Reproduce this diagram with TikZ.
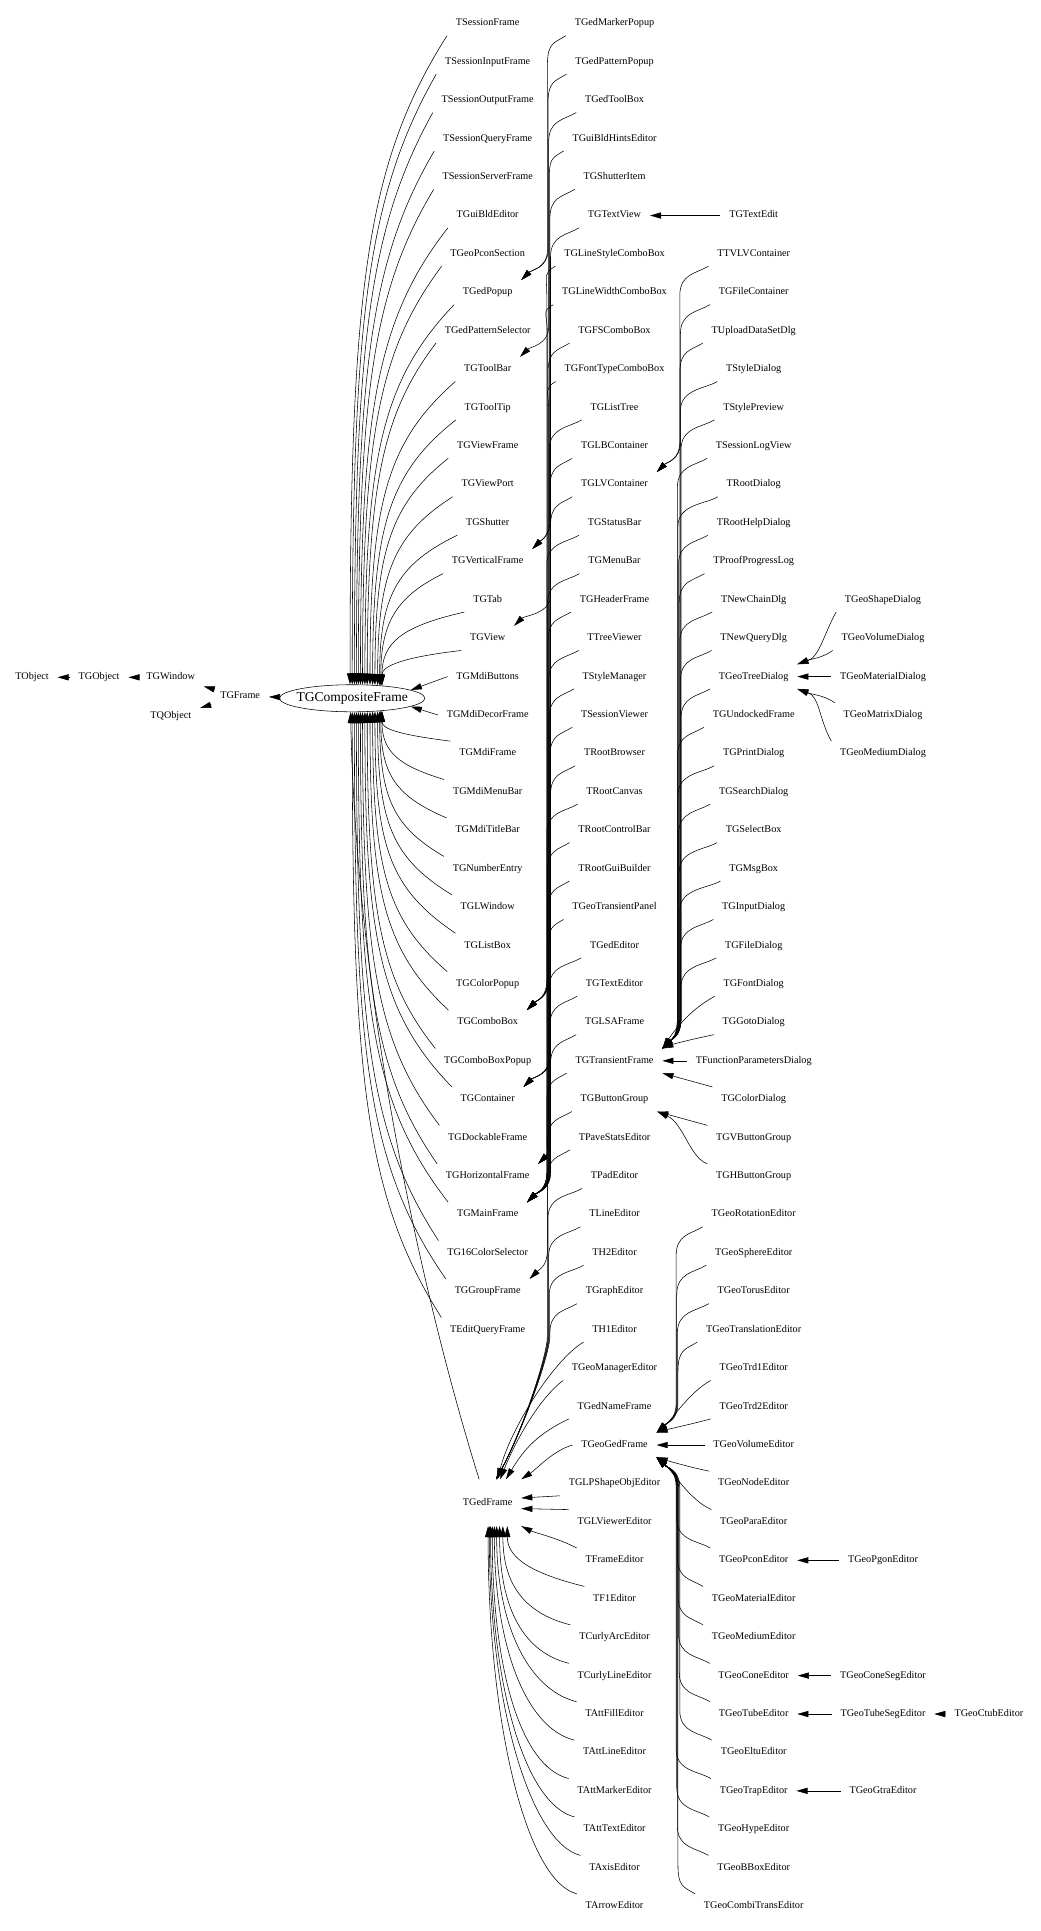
\documentclass[tikz,border=0pt]{standalone}
\usepackage{fontspec}
\setmainfont{Liberation Serif}
\usetikzlibrary{arrows.meta,shapes.geometric}

\begin{document}
\begin{tikzpicture}[x=1pt,y=1pt,
	cls/.style={inner xsep=7pt,inner ysep=6pt,text height=5.8pt,text depth=1.8pt,font=\fontsize{8.3}{9}\selectfont},
	inh/.style={-{Triangle[length=9pt,width=5pt]},line width=0.45pt}]
	\useasboundingbox (0,0) rectangle (845,-1568);
	\node[cls] (TObject) at (26,-550) {TObject};
	\node[cls] (TGObject) at (80.5,-550) {TGObject};
	\node[cls] (TGWindow) at (138.6,-550) {TGWindow};
	\node[cls] (TQObject) at (138.7,-581.7) {TQObject};
	\node[cls] (TGFrame) at (195,-565.5) {TGFrame};
	\node[draw,ellipse,inner xsep=-6pt,inner ysep=0pt,minimum width=118pt,minimum height=22pt,line width=0.45pt,font=\fontsize{11}{13}\selectfont] (TGCompositeFrame) at (286,-567) {TGCompositeFrame};
	\foreach \n [count=\i from 0] in {TSessionFrame,TSessionInputFrame,TSessionOutputFrame,TSessionQueryFrame,TSessionServerFrame,%
		TGuiBldEditor,TGeoPconSection,TGedPopup,TGedPatternSelector,TGToolBar,TGToolTip,TGViewFrame,TGViewPort,TGShutter,%
		TGVerticalFrame,TGTab,TGView,TGMdiButtons,TGMdiDecorFrame,TGMdiFrame,TGMdiMenuBar,TGMdiTitleBar,TGNumberEntry,%
		TGLWindow,TGListBox,TGColorPopup,TGComboBox,TGComboBoxPopup,TGContainer,TGDockableFrame,TGHorizontalFrame,%
		TGMainFrame,TG16ColorSelector,TGGroupFrame,TEditQueryFrame}
		\node[cls] (\n) at (396,{-19-31.2*\i}) {\n};
	\node[cls,inner ysep=15pt] (TGedFrame) at (396,-1220.2) {TGedFrame};
	\foreach \n [count=\i from 0] in {TGedMarkerPopup,TGedPatternPopup,TGedToolBox,TGuiBldHintsEditor,TGShutterItem,TGTextView,%
		TGLineStyleComboBox,TGLineWidthComboBox,TGFSComboBox,TGFontTypeComboBox,TGListTree,TGLBContainer,TGLVContainer,%
		TGStatusBar,TGMenuBar,TGHeaderFrame,TTreeViewer,TStyleManager,TSessionViewer,TRootBrowser,TRootCanvas,%
		TRootControlBar,TRootGuiBuilder,TGeoTransientPanel,TGedEditor,TGTextEditor,TGLSAFrame,TGTransientFrame,%
		TGButtonGroup,TPaveStatsEditor,TPadEditor,TLineEditor,TH2Editor,TGraphEditor,TH1Editor,TGeoManagerEditor,%
		TGedNameFrame,TGeoGedFrame,TGLPShapeObjEditor,TGLViewerEditor,TFrameEditor,TF1Editor,TCurlyArcEditor,%
		TCurlyLineEditor,TAttFillEditor,TAttLineEditor,TAttMarkerEditor,TAttTextEditor,TAxisEditor,TArrowEditor}
		\node[cls] (\n) at (499,{-19-31.2*\i}) {\n};
	\foreach \n [count=\i from 5] in {TGTextEdit,TTVLVContainer,TGFileContainer,TUploadDataSetDlg,TStyleDialog,TStylePreview,%
		TSessionLogView,TRootDialog,TRootHelpDialog,TProofProgressLog,TNewChainDlg,TNewQueryDlg,TGeoTreeDialog,%
		TGUndockedFrame,TGPrintDialog,TGSearchDialog,TGSelectBox,TGMsgBox,TGInputDialog,TGFileDialog,TGFontDialog,%
		TGGotoDialog,TFunctionParametersDialog,TGColorDialog,TGVButtonGroup,TGHButtonGroup,TGeoRotationEditor,%
		TGeoSphereEditor,TGeoTorusEditor,TGeoTranslationEditor,TGeoTrd1Editor,TGeoTrd2Editor,TGeoVolumeEditor,%
		TGeoNodeEditor,TGeoParaEditor,TGeoPconEditor,TGeoMaterialEditor,TGeoMediumEditor,TGeoConeEditor,%
		TGeoTubeEditor,TGeoEltuEditor,TGeoTrapEditor,TGeoHypeEditor,TGeoBBoxEditor,TGeoCombiTransEditor}
		\node[cls] (\n) at (612,{-19-31.2*\i}) {\n};
	\foreach \n/\i in {TGeoShapeDialog/15,TGeoVolumeDialog/16,TGeoMaterialDialog/17,TGeoMatrixDialog/18,TGeoMediumDialog/19,%
		TGeoPgonEditor/40,TGeoConeSegEditor/43,TGeoTubeSegEditor/44,TGeoGtraEditor/46}
		\node[cls] (\n) at (717,{-19-31.2*\i}) {\n};
	\node[cls] (TGeoCtubEditor) at (803,-1391.8) {TGeoCtubEditor};

	\draw[inh] (TGObject) -- (TObject);
	\draw[inh] (TGWindow) -- (TGObject);
	\draw[inh] (TGFrame) -- (TGWindow);
	\draw[inh] (TGFrame) -- (TQObject);
	\draw[inh] (TGCompositeFrame) -- (TGFrame);
	\foreach \n [count=\i from 0] in {TSessionFrame,TSessionInputFrame,TSessionOutputFrame,TSessionQueryFrame,TSessionServerFrame,%
		TGuiBldEditor,TGeoPconSection,TGedPopup,TGedPatternSelector,TGToolBar,TGToolTip,TGViewFrame,TGViewPort,TGShutter,%
		TGVerticalFrame,TGTab,TGView,TGMdiButtons,TGMdiDecorFrame,TGMdiFrame,TGMdiMenuBar,TGMdiTitleBar,TGNumberEntry,%
		TGLWindow,TGListBox,TGColorPopup,TGComboBox,TGComboBoxPopup,TGContainer,TGDockableFrame,TGHorizontalFrame,%
		TGMainFrame,TG16ColorSelector,TGGroupFrame,TEditQueryFrame}{
		\ifnum\i<17
			\pgfmathsetmacro\d{526-31.2*\i}
			\pgfmathsetmacro\cy{-29-31.2*\i-0.2*\d}
			\pgfmathtruncatemacro\ang{23+0.3*(16-\i)^2}
			\draw[inh] (\n.south west) .. controls ({296+2*\i},\cy) and +(0,{0.6*\d}) .. (TGCompositeFrame.\ang);
		\fi
		\ifnum\i>18
			\pgfmathsetmacro\d{31.2*\i-568}
			\pgfmathsetmacro\cy{-9-31.2*\i+0.2*\d}
			\pgfmathtruncatemacro\ang{-23-0.3*(\i-19)^2}
			\draw[inh] (\n.north west) .. controls ({296+2*(34-\i)},\cy) and +(0,{-0.6*\d}) .. (TGCompositeFrame.\ang);
		\fi
	}
	\draw[inh] (TGMdiButtons.west) -- (TGCompositeFrame.8);
	\draw[inh] (TGMdiDecorFrame.west) -- (TGCompositeFrame.-8);
	\draw[inh] (TGedFrame.110) .. controls (345,-1060) and (290,-820) .. (TGCompositeFrame.-97);

	\foreach \s/\t/\a/\b/\c [count=\k] in {TGedMarkerPopup/TGedPopup/0/7/444,TGedPatternPopup/TGedPopup/1/7/444,%
		TGedToolBox/TGToolBar/2/9/444,TGuiBldHintsEditor/TGVerticalFrame/3/14/444,TGShutterItem/TGVerticalFrame/4/14/444,%
		TGTextView/TGView/5/16/444,TGLineStyleComboBox/TGComboBox/6/26/444,TGLineWidthComboBox/TGComboBox/7/26/444,%
		TGFSComboBox/TGComboBox/8/26/444,TGFontTypeComboBox/TGComboBox/9/26/444,TGListTree/TGContainer/10/28/444,%
		TGLBContainer/TGContainer/11/28/444,TGLVContainer/TGContainer/12/28/444,TGStatusBar/TGHorizontalFrame/13/30/444,%
		TGMenuBar/TGHorizontalFrame/14/30/444,TGHeaderFrame/TGHorizontalFrame/15/30/444,TTreeViewer/TGMainFrame/16/31/444,%
		TStyleManager/TGMainFrame/17/31/444,TSessionViewer/TGMainFrame/18/31/444,TRootBrowser/TGMainFrame/19/31/444,%
		TRootCanvas/TGMainFrame/20/31/444,TRootControlBar/TGMainFrame/21/31/444,TRootGuiBuilder/TGMainFrame/22/31/444,%
		TGeoTransientPanel/TGMainFrame/23/31/444,TGedEditor/TGMainFrame/24/31/444,TGTextEditor/TGMainFrame/25/31/444,%
		TGLSAFrame/TGMainFrame/26/31/444,TGTransientFrame/TGMainFrame/27/31/444,TGButtonGroup/TGGroupFrame/28/33/444,%
		TTVLVContainer/TGLVContainer/6/12/551,TGFileContainer/TGLVContainer/7/12/551,%
		TUploadDataSetDlg/TGTransientFrame/8/27/550,TStyleDialog/TGTransientFrame/9/27/550,%
		TStylePreview/TGTransientFrame/10/27/550,TSessionLogView/TGTransientFrame/11/27/550,%
		TRootDialog/TGTransientFrame/12/27/550,TRootHelpDialog/TGTransientFrame/13/27/550,%
		TProofProgressLog/TGTransientFrame/14/27/550,TNewChainDlg/TGTransientFrame/15/27/550,%
		TNewQueryDlg/TGTransientFrame/16/27/550,TGeoTreeDialog/TGTransientFrame/17/27/550,%
		TGUndockedFrame/TGTransientFrame/18/27/550,TGPrintDialog/TGTransientFrame/19/27/550,%
		TGSearchDialog/TGTransientFrame/20/27/550,TGSelectBox/TGTransientFrame/21/27/550,%
		TGMsgBox/TGTransientFrame/22/27/550,TGInputDialog/TGTransientFrame/23/27/550,%
		TGFileDialog/TGTransientFrame/24/27/550,TGeoRotationEditor/TGeoGedFrame/31/37/549,%
		TGeoSphereEditor/TGeoGedFrame/32/37/549,TGeoTorusEditor/TGeoGedFrame/33/37/549,%
		TGeoTranslationEditor/TGeoGedFrame/34/37/549}{
		\pgfmathsetmacro\ya{-19-31.2*\a}
		\pgfmathsetmacro\yb{-19-31.2*\b}
		\pgfmathsetmacro\bx{\c+0.5*mod(\k,7)}
		\draw[inh] (\s.south west) .. controls +(-10,-6) and (\bx,\ya-16) .. (\bx,\ya-34) -- (\bx,\yb+34) .. controls (\bx,\yb+20) and +(8,8) .. (\t.north east);
	}
	\foreach \s/\a [count=\k] in {TGeoPconEditor/40,TGeoMaterialEditor/41,TGeoMediumEditor/42,TGeoConeEditor/43,%
		TGeoTubeEditor/44,TGeoEltuEditor/45,TGeoTrapEditor/46,TGeoHypeEditor/47,TGeoBBoxEditor/48,TGeoCombiTransEditor/49}{
		\pgfmathsetmacro\ya{-19-31.2*\a}
		\pgfmathsetmacro\bx{549+0.5*mod(\k,7)}
		\draw[inh] (\s.north west) .. controls +(-10,6) and (\bx,\ya+16) .. (\bx,\ya+34) -- (\bx,-1207.4) .. controls (\bx,-1193.4) and +(8,-8) .. (TGeoGedFrame.south east);
	}
	\foreach \s/\a [count=\k] in {TPaveStatsEditor/29,TPadEditor/30,TLineEditor/31,TH2Editor/32,TGraphEditor/33}{
		\pgfmathsetmacro\ya{-19-31.2*\a}
		\pgfmathsetmacro\bx{444+0.5*mod(\k,7)}
		\draw[inh] (\s.south west) .. controls +(-10,-6) and (\bx,\ya-16) .. (\bx,\ya-34) -- (\bx,-1085) .. controls (\bx,-1100) and (425,-1160) .. (TGedFrame.70);
	}
	\draw[inh] (TH1Editor.south west) .. controls +(-25,-15) and +(10,40) .. (TGedFrame.67);
	\draw[inh] (TGeoManagerEditor.south west) .. controls +(-20,-15) and +(12,30) .. (TGedFrame.62);
	\draw[inh] (TGedNameFrame.south west) .. controls +(-25,-12) and +(15,25) .. (TGedFrame.52);
	\draw[inh] (TGeoGedFrame.west) .. controls +(-15,-4) and +(12,8) .. (TGedFrame.north east);
	\draw[inh] (TGLPShapeObjEditor.south west) -- (TGedFrame.8);
	\draw[inh] (TGLViewerEditor.north west) -- (TGedFrame.-10);
	\draw[inh] (TFrameEditor.north west) .. controls +(-15,8) and +(10,-5) .. (TGedFrame.south east);
	\foreach \s/\a/\ang in {TF1Editor/41/-50,TCurlyArcEditor/42/-57,TCurlyLineEditor/43/-63,TAttFillEditor/44/-69,%
		TAttLineEditor/45/-74,TAttMarkerEditor/46/-79,TAttTextEditor/47/-83,TAxisEditor/48/-86,TArrowEditor/49/-89}{
		\pgfmathsetmacro\d{31.2*\a-1230}
		\draw[inh] (\s.north west) .. controls +(-40,10) and +(0,{-0.55*\d}) .. (TGedFrame.\ang);
	}

	\draw[inh] (TGFontDialog.south west) .. controls +(-15,-8) and (552,-830) .. (TGTransientFrame.north east);
	\draw[inh] (TGGotoDialog.south west) .. controls +(-15,-3) and +(10,4) .. (TGTransientFrame.north east);
	\draw[inh] (TFunctionParametersDialog) -- (TGTransientFrame);
	\draw[inh] (TGColorDialog.north west) -- (TGTransientFrame.south east);
	\draw[inh] (TGVButtonGroup.north west) -- (TGButtonGroup.south east);
	\draw[inh] (TGHButtonGroup.north west) .. controls (560,-940) and (555,-912) .. (TGButtonGroup.south east);
	\draw[inh] (TGeoTrd1Editor.south west) .. controls +(-18,-10) and +(12,10) .. (TGeoGedFrame.north east);
	\draw[inh] (TGeoTrd2Editor.south west) .. controls +(-15,-4) and +(10,3) .. (TGeoGedFrame.north east);
	\draw[inh] (TGeoVolumeEditor) -- (TGeoGedFrame);
	\draw[inh] (TGeoNodeEditor.north west) .. controls +(-15,3) and +(10,-3) .. (TGeoGedFrame.south east);
	\draw[inh] (TGeoParaEditor.north west) .. controls +(-18,8) and +(12,-10) .. (TGeoGedFrame.south east);

	\draw[inh] (TGeoShapeDialog.south west) .. controls +(-10,-18) and +(18,6) .. (TGeoTreeDialog.north east);
	\draw[inh] (TGeoVolumeDialog.south west) .. controls +(-8,-6) and +(10,4) .. (TGeoTreeDialog.north east);
	\draw[inh] (TGeoMatrixDialog.north west) .. controls +(-8,6) and +(10,-4) .. (TGeoTreeDialog.south east);
	\draw[inh] (TGeoMediumDialog.north west) .. controls +(-10,18) and +(18,-6) .. (TGeoTreeDialog.south east);
	\foreach \s/\t in {TGTextEdit/TGTextView,TGeoMaterialDialog/TGeoTreeDialog,TGeoPgonEditor/TGeoPconEditor,%
		TGeoConeSegEditor/TGeoConeEditor,TGeoTubeSegEditor/TGeoTubeEditor,TGeoCtubEditor/TGeoTubeSegEditor,%
		TGeoGtraEditor/TGeoTrapEditor}
		\draw[inh] (\s) -- (\t);
\end{tikzpicture}
\end{document}
